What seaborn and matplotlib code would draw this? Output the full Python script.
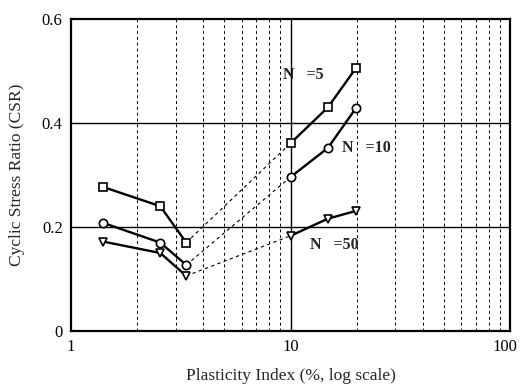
import numpy as np
import pandas as pd
import matplotlib
matplotlib.use("Agg")
import matplotlib.pyplot as plt
import matplotlib.transforms as mtransforms
import seaborn as sns

pi = [1.4, 2.55, 3.35, 10, 14.8, 19.9]
csr_n5 = [0.277, 0.240, 0.170, 0.361, 0.430, 0.506]
csr_n10 = [0.208, 0.170, 0.127, 0.296, 0.352, 0.429]
csr_n50 = [0.172, 0.150, 0.106, 0.183, 0.216, 0.231]
series_names = ["N   =5", "N   =10", "N   =50"]
markers = ["s", "o", "v"]

sns.set_style("white")
plt.rcParams['font.family'] = ['Liberation Serif', 'DejaVu Serif']

rows = []
for name, vals in zip(series_names, [csr_n5, csr_n10, csr_n50]):
    for i, (x, y) in enumerate(zip(pi, vals)):
        rows.append({"PI": x, "CSR": y, "series": name, "seg": "low" if i < 3 else "high"})
df = pd.DataFrame(rows)

fig = plt.figure(figsize=(5.2, 3.84), dpi=100)
ax = fig.add_axes([71/520, 1-331/384, (510-71)/520, (331-19)/384])
ax.set_xscale("log")

for name, mk in zip(series_names, markers):
    for seg in ["low", "high"]:
        sub = df[(df.series == name) & (df.seg == seg)]
        sns.lineplot(data=sub, x="PI", y="CSR", ax=ax, color="black", lw=1.7,
                     marker=mk, markersize=6, markerfacecolor="white",
                     markeredgecolor="black", markeredgewidth=1.2, legend=False,
                     estimator=None, sort=False, zorder=4)
    s = df[df.series == name]
    ax.plot(s.PI.values[2:4], s.CSR.values[2:4], color="black", lw=0.8,
            ls=(0, (3, 3)), zorder=3)

ax.set_xlim(1, 100)
ax.set_ylim(0, 0.6)
ax.set_yticks([0, 0.2, 0.4, 0.6])
ax.set_yticklabels(["0", "0.2", "0.4", "0.6"])
ax.set_xticks([1, 10, 100])
ax.set_xticklabels(["1", "10", "100"])
ax.xaxis.set_minor_locator(matplotlib.ticker.LogLocator(base=10, subs=np.arange(2, 10)))
ax.xaxis.set_minor_formatter(matplotlib.ticker.NullFormatter())
ax.tick_params(axis="both", which="both", length=0, labelsize=12, colors="black")
ax.tick_params(axis="x", pad=6)
ax.tick_params(axis="y", pad=6)

ax.grid(False)
for yv in [0.2, 0.4]:
    ax.axhline(yv, color="black", lw=1.0, zorder=1)
ax.axvline(10, color="black", lw=1.0, zorder=1)
for xv in list(range(2, 10)) + list(range(20, 100, 10)):
    ax.axvline(xv, color="black", lw=0.7, ls=(0, (3, 3)), zorder=1)

for sp in ax.spines.values():
    sp.set_color("black")
    sp.set_linewidth(1.6)

lab_kw = dict(fontsize=11.5, fontweight="bold", va="center", ha="left", zorder=5)
ax.text(9.25, 0.492, "N   =5", **lab_kw)
ax.text(17.2, 0.352, "N   =10", **lab_kw)
ax.text(12.3, 0.165, "N   =50", **lab_kw)

ax.set_xlabel("Plasticity Index (%, log scale)", fontsize=12.5, labelpad=9)
ax.set_ylabel("Cyclic Stress Ratio (CSR)", fontsize=12.5, labelpad=12)

last = ax.get_xticklabels()[-1]
last.set_transform(last.get_transform() +
                   mtransforms.ScaledTranslation(-5/100, 0, fig.dpi_scale_trans))

fig.savefig("out.png", dpi=100)
